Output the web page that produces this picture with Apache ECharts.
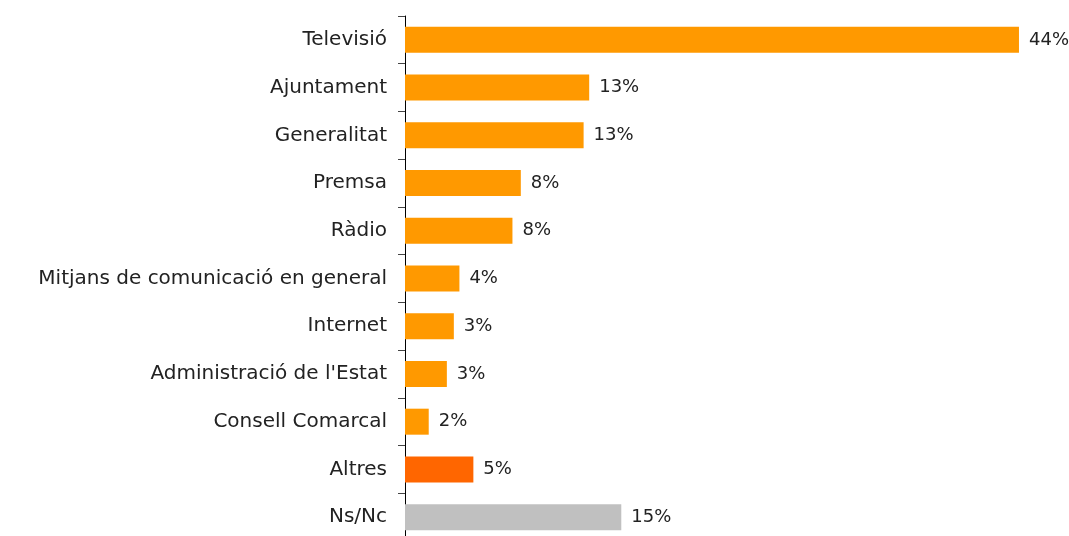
<!DOCTYPE html>
<html><head><meta charset="utf-8">
<script src="https://cdn.jsdelivr.net/npm/echarts@6/dist/echarts.min.js"></script>
<style>html,body{margin:0;padding:0;background:#fff}#c{width:1069px;height:536px}</style>
</head><body><div id="c"></div>
<script>
const categories = ["Televisió","Ajuntament","Generalitat","Premsa","Ràdio","Mitjans de comunicació en general","Internet","Administració de l'Estat","Consell Comarcal","Altres","Ns/Nc"];
const values = [44.0, 13.2, 12.8, 8.3, 7.7, 3.9, 3.5, 3.0, 1.7, 4.9, 15.5];
const labels = ["44%","13%","13%","8%","8%","4%","3%","3%","2%","5%","15%"];
const colors = ["#FF9900","#FF9900","#FF9900","#FF9900","#FF9900","#FF9900","#FF9900","#FF9900","#FF9900","#FF6600","#C0C0C0"];
const FONT = "'DejaVu Sans', sans-serif";
const chart = echarts.init(document.getElementById('c'));
chart.setOption({
  animation:false,
  grid:{left:405, top:16, width:697.7, height:525, outerBoundsMode:'none', containLabel:false},
  xAxis:{type:'value', min:0, max:50, show:false},
  yAxis:{type:'category', inverse:true, data:categories,
    axisLine:{lineStyle:{color:'#000', width:1}},
    axisTick:{show:true, length:7, lineStyle:{color:'#444'}},
    axisLabel:{color:'#222', fontSize:20, fontFamily:FONT, margin:18}},
  series:[{type:'bar', barWidth:26,
    data: values.map((v,i)=>({value:v, itemStyle:{color:colors[i]}})),
    label:{show:true, position:'right', distance:10, color:'#222', fontSize:18, fontFamily:FONT,
      formatter: p => labels[p.dataIndex]}}]
});
</script></body></html>
